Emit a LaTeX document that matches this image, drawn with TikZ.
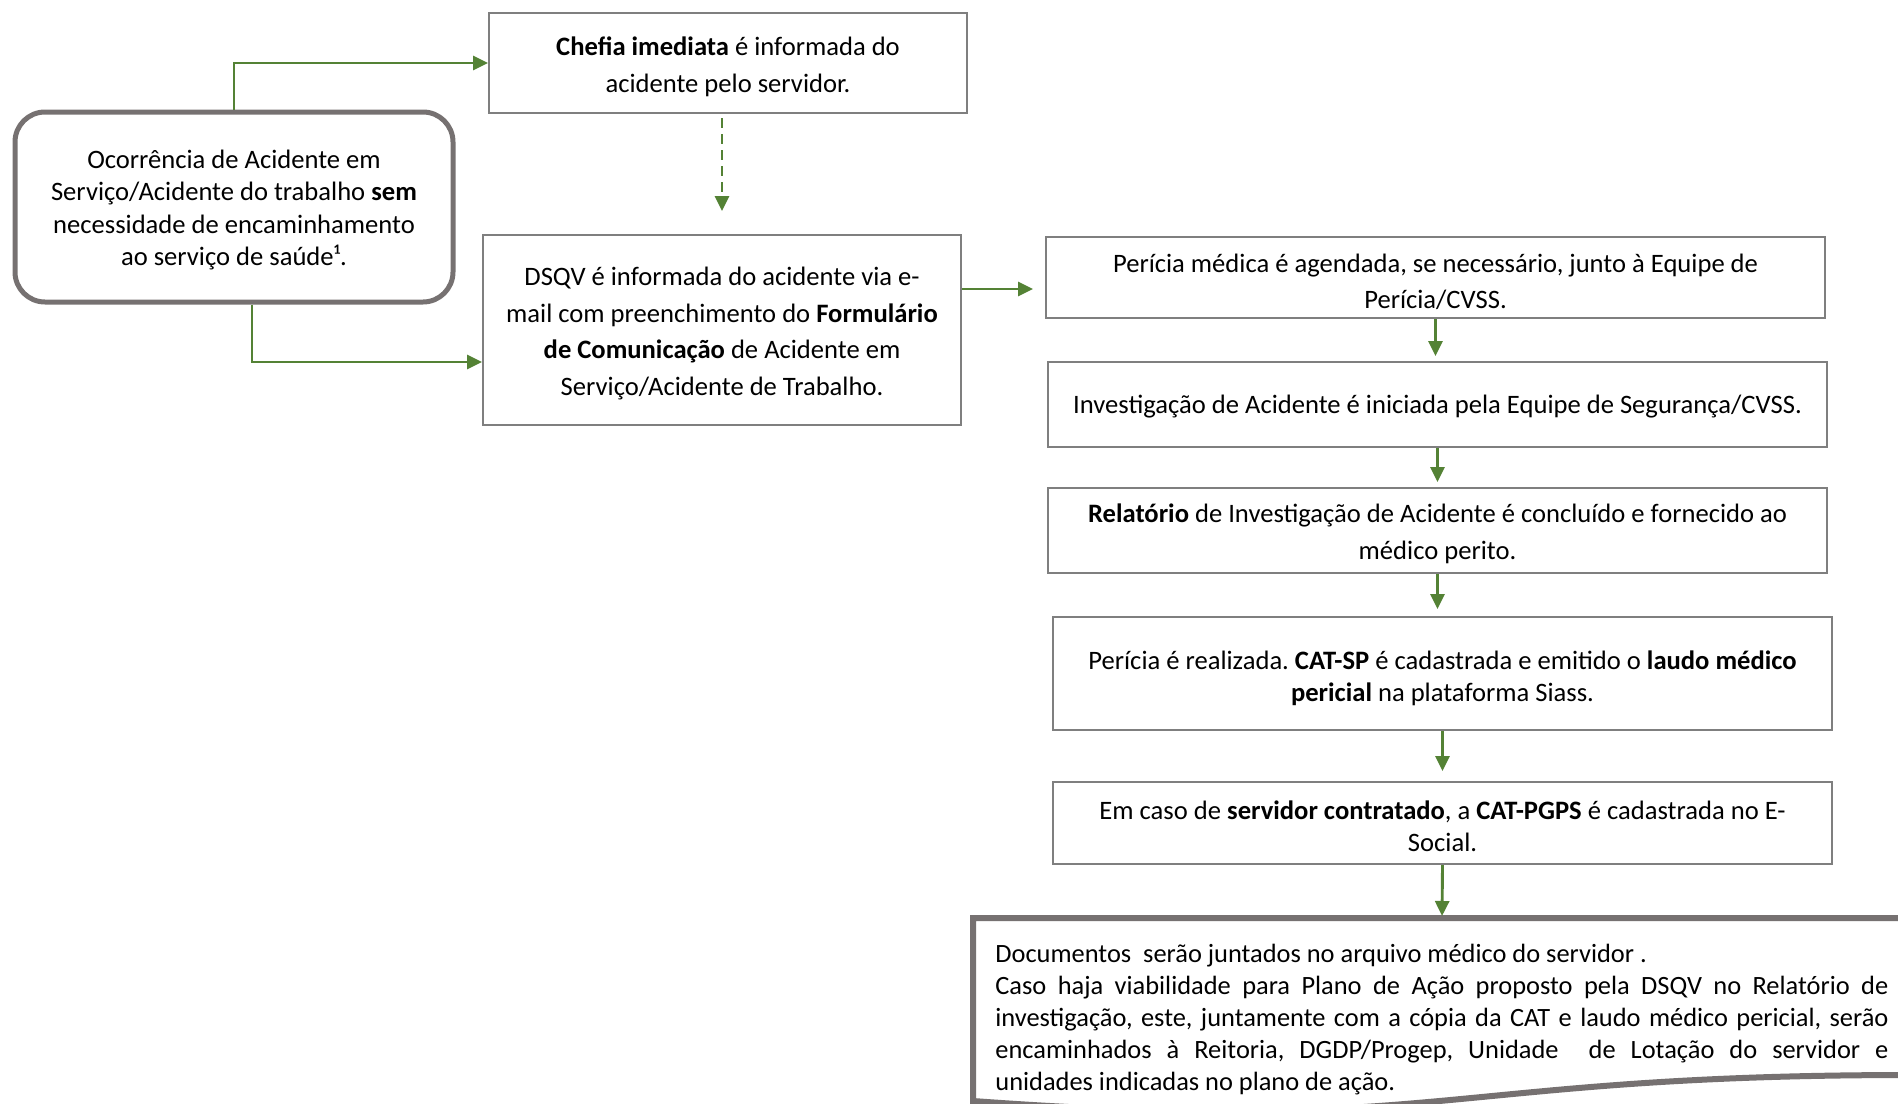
\documentclass[tikz,border=0pt]{standalone}
\usepackage{fontspec}
\setmainfont{Carlito}
\usetikzlibrary{arrows.meta,calc}
\definecolor{grn}{HTML}{548235}
\definecolor{bordergray}{HTML}{7F7F7F}
\definecolor{thickgray}{HTML}{767171}
\frenchspacing
\begin{document}
\begin{tikzpicture}[x=0.5pt,y=-0.5pt,
  box/.style={draw=bordergray,line width=1pt,inner sep=0pt},
  txt/.style={align=center,inner sep=0pt,font=\fontsize{13.3pt}{18.3pt}\selectfont},
  tighttxt/.style={txt,font=\fontsize{13.3pt}{16.1pt}\selectfont},
  arr/.style={draw=grn,line width=1.45pt,-{Triangle[length=7.5pt,width=7pt]}},
]
\useasboundingbox (0,0) rectangle (1898,1103);
\clip (0,0) rectangle (1898,1103);

% frames
\node[box,minimum width=239pt,minimum height=50pt] (chefia) at (728,63) {};
\node[box,draw=thickgray,line width=2.5pt,rounded corners=15pt,
  minimum width=219pt,minimum height=95pt] (ocorr) at (234,207) {};
\node[box,minimum width=239pt,minimum height=95pt] (dsqv) at (722,330) {};
\node[box,minimum width=389.5pt,minimum height=40.5pt] (pm) at (1435.5,277.5) {};
\node[box,minimum width=389.5pt,minimum height=42.5pt] (inv) at (1437.5,404.5) {};
\node[box,minimum width=389.5pt,minimum height=42.5pt] (rel) at (1437.5,530.5) {};
\node[box,minimum width=389.5pt,minimum height=56.5pt] (per) at (1442.5,673.5) {};
\node[box,minimum width=389.5pt,minimum height=41pt] (emc) at (1442.5,823) {};

% texts
\node[txt] (chefia-t) at ([yshift=-1.8pt]chefia.center)
  {\textbf{Chefia imediata} é informada do\\acidente pelo servidor.};
\node[tighttxt] (ocorr-t) at ([yshift=-1.5pt]ocorr.center)
  {Ocorrência de Acidente em\\Serviço/Acidente do trabalho \textbf{sem}\\necessidade de encaminhamento\\ao serviço de saúde¹.};
\node[txt] (dsqv-t) at ([yshift=-1.8pt]dsqv.center)
  {DSQV é informada do acidente via e-\\mail com preenchimento do \textbf{Formulário}\\\textbf{de Comunicação} de Acidente em\\Serviço/Acidente de Trabalho.};
\node[txt] (pm-t) at ([yshift=-2.2pt]pm.center)
  {Perícia médica é agendada, se necessário, junto à Equipe de\\Perícia/CVSS.};
\node[txt] (inv-t) at ([yshift=-1.2pt]inv.center)
  {Investigação de Acidente é iniciada pela Equipe de Segurança/CVSS.};
\node[txt] (rel-t) at ([yshift=-1.8pt]rel.center)
  {\textbf{Relatório} de Investigação de Acidente é concluído e fornecido ao\\médico perito.};
\node[tighttxt] (per-t) at ([yshift=-2.2pt]per.center)
  {Perícia é realizada. \textbf{CAT-SP} é cadastrada e emitido o \textbf{laudo médico}\\\textbf{pericial} na plataforma Siass.};
\node[tighttxt] (emc-t) at ([yshift=-1.5pt]emc.center)
  {Em caso de \textbf{servidor contratado}, a \textbf{CAT-PGPS} é cadastrada no E-\\Social.};

% document shape
\draw[draw=thickgray,line width=3pt,fill=white]
  (973,918) -- (1911,918) -- (1911,1075)
  .. controls (1442,1075) and (1442,1135) .. (973,1101) -- cycle;
\coordinate (doctop) at (1442,918);
\node[anchor=north west,inner sep=0pt,text width=446.5pt,align=justify,
  font=\fontsize{13.2pt}{16pt}\selectfont] (doc) at (995,944)
  {Documentos\ \ serão juntados no arquivo médico do servidor .\\
   Caso haja viabilidade para Plano de Ação proposto pela DSQV no Relatório de\linebreak
   investigação, este, juntamente com a cópia da CAT e laudo médico pericial, serão\linebreak
   encaminhados à Reitoria, DGDP/Progep, Unidade\ \ de Lotação do servidor e\linebreak
   unidades indicadas no plano de ação.};

% connectors
\draw[arr] (ocorr.north) |- (chefia.west);
\draw[arr] ([xshift=9pt]ocorr.south) |- ([yshift=-16pt]dsqv.west);
\draw[arr,dash pattern=on 5pt off 3pt,shorten <=2pt,shorten >=11.5pt]
  (dsqv.north |- chefia.south) -- (dsqv.north);
\draw[arr,shorten >=6pt] ([yshift=20.5pt]dsqv.east) -- ([yshift=20.5pt]dsqv.east -| pm.west);
\draw[arr,shorten >=2.5pt] (pm.south) -- (pm.south |- inv.north);
\draw[arr,shorten >=2.5pt] (inv.south) -- (inv.south |- rel.north);
\draw[arr,shorten >=3.5pt] (rel.south) -- (rel.south |- per.north);
\draw[arr,shorten >=5pt] (per.south) -- (per.south |- emc.north);
\draw[arr,shorten >=1pt] (emc.south) -- (doctop);
\end{tikzpicture}
\end{document}
